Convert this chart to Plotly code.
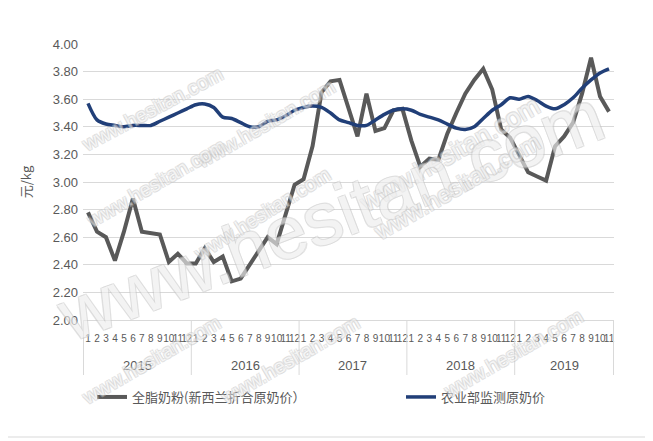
import plotly.graph_objects as go

years = ["2015"] * 12 + ["2016"] * 12 + ["2017"] * 12 + ["2018"] * 12 + ["2019"] * 11
months = [str(m) for m in range(1, 13)] * 4 + [str(m) for m in range(1, 12)]
year_labels = ["2015", "2016", "2017", "2018", "2019"]

wmp_nz = [2.78, 2.64, 2.60, 2.43, 2.64, 2.88, 2.64, 2.63, 2.62, 2.42, 2.48, 2.41,
          2.41, 2.52, 2.42, 2.46, 2.28, 2.30, 2.40, 2.50, 2.60, 2.55, 2.77, 2.98,
          3.02, 3.26, 3.65, 3.73, 3.74, 3.53, 3.33, 3.64, 3.37, 3.39, 3.52, 3.53,
          3.30, 3.11, 3.17, 3.16, 3.35, 3.50, 3.64, 3.74, 3.82, 3.67, 3.38, 3.32,
          3.20, 3.07, 3.04, 3.01, 3.26, 3.33, 3.43, 3.64, 3.90, 3.62, 3.51]

moa_raw = [3.57, 3.45, 3.42, 3.41, 3.40, 3.41, 3.41, 3.41, 3.44, 3.47, 3.50, 3.53,
           3.56, 3.565, 3.54, 3.47, 3.46, 3.43, 3.40, 3.40, 3.44, 3.45, 3.48, 3.52,
           3.54, 3.55, 3.54, 3.50, 3.45, 3.43, 3.41, 3.41, 3.45, 3.49, 3.52, 3.53,
           3.52, 3.49, 3.47, 3.45, 3.42, 3.39, 3.38, 3.40, 3.46, 3.52, 3.56, 3.61,
           3.60, 3.62, 3.59, 3.55, 3.53, 3.56, 3.61, 3.68, 3.74, 3.79, 3.82]

name_gray = "全脂奶粉(新西兰折合原奶价）"
name_blue = "农业部监测原奶价"
y_title = "元/kg"
watermark = "www.hesitan.com"

cats = [f"{y}-{m}" for y, m in zip(years, months)]

GRAY = "#595959"
TXT = "#595959"
GRID = "#d9d9d9"

# page body has an 8px margin: work in reference pixel coords minus OFF
OFF = 8
W, H = 653 - OFF, 441 - OFF
L, R, T, B = 83 - OFF, 614 - OFF, 44 - OFF, 320 - OFF
pw, ph = R - L, B - T


def px(x):
    return (x - OFF - L) / pw


def py(y):
    return (B - (y - OFF)) / ph


fig = go.Figure()
fig.add_trace(go.Scatter(x=cats, y=wmp_nz, mode="lines", name=name_gray, legend="legend",
                         line=dict(color=GRAY, width=4)))
fig.add_trace(go.Scatter(x=cats, y=moa_raw, mode="lines", name=name_blue, legend="legend2",
                         line=dict(color="#213f78", width=3.5, shape="spline", smoothing=0.8)))

# year labels and group dividers
starts = [0]
for i in range(1, len(years)):
    if years[i] != years[i - 1]:
        starts.append(i)
ends = starts[1:] + [len(years)]
for yl, s, e in zip(year_labels, starts, ends):
    fig.add_annotation(x=(s + e - 1) / 2, xref="x", y=py(365), yref="paper", text=yl,
                       showarrow=False, yanchor="middle",
                       font=dict(family="Liberation Sans", size=13, color=TXT))
for b in [s - 0.5 for s in starts] + [len(years) - 0.5]:
    fig.add_shape(type="line", xref="x", yref="paper", x0=b, x1=b, y0=0, y1=py(375),
                  line=dict(color=GRID, width=1))

# watermarks
wm = [(75, 60, 20, -28), (265, 72, 20, -30), (548, 88, 26, -30), (80, 235, 20, -30),
      (330, 215, 74, -21), (262, 268, 20, -32), (548, 248, 24, -30),
      (75, 412, 20, -30), (290, 412, 20, -30), (590, 405, 20, -30)]
for cx, cy, fs, ang in wm:
    fig.add_annotation(x=px(cx), y=py(cy), xref="paper", yref="paper", text=watermark,
                       showarrow=False, textangle=ang, opacity=0.65,
                       font=dict(family="Arial", size=fs, color="rgba(255,255,255,0.7)",
                                 shadow="1px 1px 0 #c4c4c4, -1px -1px 0 #c4c4c4, 1px -1px 0 #c4c4c4, -1px 1px 0 #c4c4c4"))

fig.add_shape(type="rect", xref="paper", yref="paper",
              x0=px(5), x1=px(647), y0=py(437), y1=py(2),
              line=dict(color=GRID, width=1), fillcolor="rgba(0,0,0,0)", layer="below")

leg_common = dict(orientation="h", xref="container", yref="container", xanchor="left",
                  yanchor="middle", y=(H - (397 - OFF)) / H, bgcolor="rgba(0,0,0,0)",
                  font=dict(family="Noto Sans CJK SC", size=13, color=TXT))

fig.update_layout(
    width=W, height=H,
    margin=dict(l=L, r=W - R, t=T, b=H - B),
    paper_bgcolor="white", plot_bgcolor="white",
    font=dict(family="Liberation Sans, Noto Sans CJK SC", color=TXT, size=12),
    showlegend=True,
    legend=dict(x=(92 - OFF) / W, **leg_common),
    legend2=dict(x=(401 - OFF) / W, **leg_common),
    xaxis=dict(type="category", tickmode="array", tickvals=cats, ticktext=months,
               showgrid=False, showline=True, linecolor=GRID, ticks="", tickangle=0,
               ticklabelstandoff=9,
               tickfont=dict(family="Liberation Sans Narrow, Liberation Sans", size=10, color=TXT)),
    yaxis=dict(range=[2, 4], dtick=0.2, tick0=2, tickformat=".2f", showgrid=True,
               gridcolor=GRID, gridwidth=1, zeroline=False, showline=False, ticks="",
               ticklabelstandoff=4,
               tickfont=dict(family="Liberation Sans", size=13, color=TXT),
               title=dict(text=y_title, font=dict(family="Noto Sans CJK SC", size=13, color=TXT),
                          standoff=18)),
)

fig.write_html("out.html")
